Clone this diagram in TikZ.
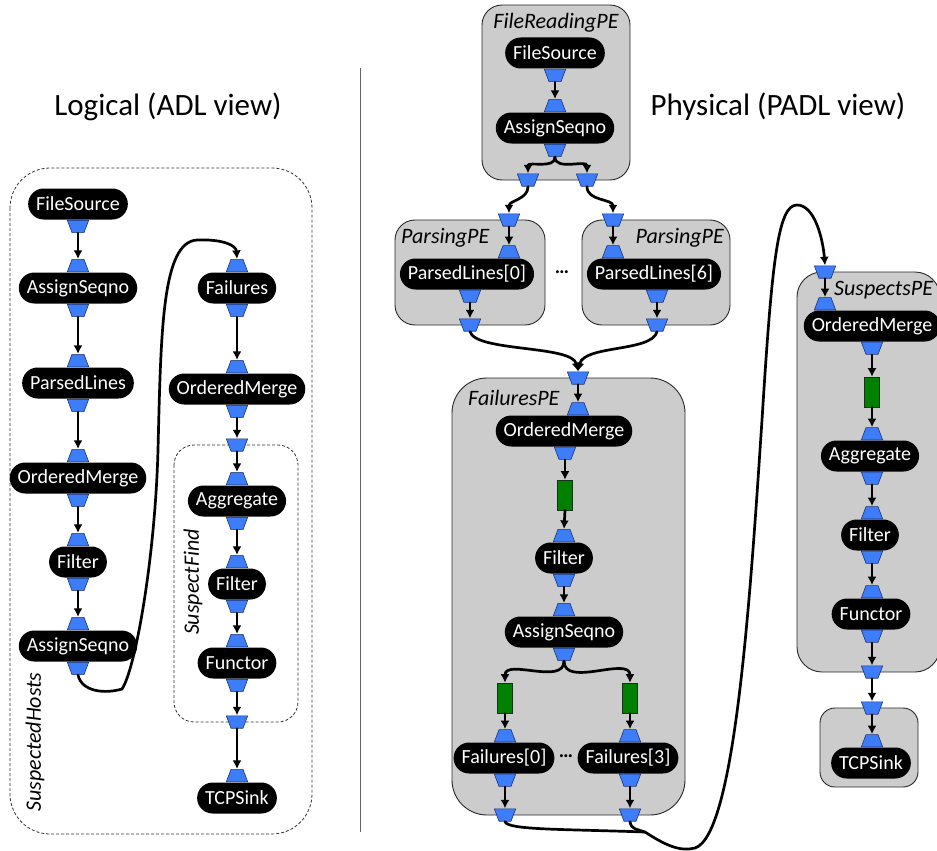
\documentclass[tikz,border=0pt]{standalone}
\usepackage{fontspec}
\setmainfont{Carlito}
\usetikzlibrary{arrows.meta}
\definecolor{portblue}{RGB}{61,125,250}
\definecolor{portedge}{RGB}{30,50,110}
\definecolor{bufgreen}{RGB}{0,128,0}
\definecolor{bufedge}{RGB}{20,50,20}
\definecolor{pegray}{RGB}{204,204,204}
\definecolor{peedge}{RGB}{40,40,40}
\begin{document}
\begin{tikzpicture}[x=1pt,y=-1pt,
  op/.style={fill=black, text=white, rounded corners=15.5pt, minimum height=31pt, inner xsep=8pt, inner ysep=0pt, font=\fontsize{20}{22}\selectfont},
  portbase/.style={rectangle, minimum width=22pt, minimum height=13pt, inner sep=0pt},
  inport/.style={portbase, path picture={\filldraw[fill=portblue, draw=portedge, line width=0.6pt]
      ([xshift=5pt,yshift=-0.3pt]path picture bounding box.north west) --
      ([xshift=-5pt,yshift=-0.3pt]path picture bounding box.north east) --
      ([xshift=-0.3pt,yshift=0.3pt]path picture bounding box.south east) --
      ([xshift=0.3pt,yshift=0.3pt]path picture bounding box.south west) -- cycle;}},
  outport/.style={portbase, path picture={\filldraw[fill=portblue, draw=portedge, line width=0.6pt]
      ([xshift=0.3pt,yshift=-0.3pt]path picture bounding box.north west) --
      ([xshift=-0.3pt,yshift=-0.3pt]path picture bounding box.north east) --
      ([xshift=-5pt,yshift=0.3pt]path picture bounding box.south east) --
      ([xshift=5pt,yshift=0.3pt]path picture bounding box.south west) -- cycle;}},
  buf/.style={fill=bufgreen, draw=bufedge, line width=0.6pt, minimum width=15pt, minimum height=30pt, inner sep=0pt},
  pebox/.style={fill=pegray, draw=peedge, line width=0.9pt},
  grpbox/.style={draw=black!80, line width=0.8pt, dash pattern=on 3pt off 2pt},
  lbl/.style={font=\fontsize{22}{24}\selectfont\itshape, inner sep=0pt},
  ttl/.style={font=\fontsize{31}{35}\selectfont},
  flow/.style={line width=2.7pt, line cap=round, -{Latex[length=8.5pt,width=9pt]}},
  flowline/.style={line width=2.7pt, line cap=round},
  dots/.style={font=\fontsize{20}{22}\selectfont\bfseries}
]
\useasboundingbox (0,0) rectangle (937,851);

% titles and separator
\node[ttl] (tL) at (168,107) {Logical (ADL view)};
\node[ttl] (tR) at (778,107) {Physical (PADL view)};
\draw[black!60, line width=0.8pt] (360,68) -- (360,832);

% ================= LEFT: logical view =================
\draw[grpbox] (10,168) [rounded corners=40pt] rectangle (312,834);
\draw[grpbox] (174,445) [rounded corners=20pt] rectangle (298,722);
\node[lbl, rotate=90] (shLbl) at (35,742) {SuspectedHosts};
\node[lbl, rotate=90] (sfLbl) at (193,582) {SuspectFind};

\node[op] (lFS) at (78,204) {FileSource};
\node[outport, anchor=north] (lFSo) at (lFS.south) {};

\node[op] (lAS) at (78,288) {AssignSeqno};
\node[inport, anchor=south] (lASi) at (lAS.north) {};
\node[outport, anchor=north] (lASo) at (lAS.south) {};

\node[op] (lPL) at (78,383) {ParsedLines};
\node[inport, anchor=south] (lPLi) at (lPL.north) {};
\node[outport, anchor=north] (lPLo) at (lPL.south) {};

\node[op] (lOM) at (78,478) {OrderedMerge};
\node[inport, anchor=south] (lOMi) at (lOM.north) {};
\node[outport, anchor=north] (lOMo) at (lOM.south) {};

\node[op] (lFi) at (78,562) {Filter};
\node[inport, anchor=south] (lFii) at (lFi.north) {};
\node[outport, anchor=north] (lFio) at (lFi.south) {};

\node[op] (lAS2) at (78,646) {AssignSeqno};
\node[inport, anchor=south] (lAS2i) at (lAS2.north) {};
\node[outport, anchor=north] (lAS2o) at (lAS2.south) {};

\node[op] (lFa) at (237,288) {Failures};
\node[inport, anchor=south] (lFai) at (lFa.north) {};
\node[outport, anchor=north] (lFao) at (lFa.south) {};

\node[op] (lOM2) at (237,389) {OrderedMerge};
\node[inport, anchor=south] (lOM2i) at (lOM2.north) {};
\node[outport, anchor=north] (lOM2o) at (lOM2.south) {};

\node[outport] (sfi) at (237,445) {};

\node[op] (lAg) at (237,501) {Aggregate};
\node[inport, anchor=south] (lAgi) at (lAg.north) {};
\node[outport, anchor=north] (lAgo) at (lAg.south) {};

\node[op] (lFi2) at (237,584) {Filter};
\node[inport, anchor=south] (lFi2i) at (lFi2.north) {};
\node[outport, anchor=north] (lFi2o) at (lFi2.south) {};

\node[op] (lFu) at (237,663) {Functor};
\node[inport, anchor=south] (lFui) at (lFu.north) {};
\node[outport, anchor=north] (lFuo) at (lFu.south) {};

\node[outport] (sfo) at (237,722) {};

\node[op] (lTS) at (237,798) {TCPSink};
\node[inport, anchor=south] (lTSi) at (lTS.north) {};

\draw[flow] (lFSo.south) -- (lASi.north);
\draw[flow] (lASo.south) -- (lPLi.north);
\draw[flow] (lPLo.south) -- (lOMi.north);
\draw[flow] (lOMo.south) -- (lFii.north);
\draw[flow] (lFio.south) -- (lAS2i.north);
\draw[flow] (lAS2o.south) .. controls (82,692) and (105,694) .. (122,689)
  .. controls (135,670) and (155,560) .. (158,450)
  .. controls (161,330) and (162,242) .. (197,240)
  .. controls (222,239) and (236,245) .. (lFai.north);
\draw[flow] (lFao.south) -- (lOM2i.north);
\draw[flow] (lOM2o.south) -- (sfi.north);
\draw[flow] (sfi.south) -- (lAgi.north);
\draw[flow] (lAgo.south) -- (lFi2i.north);
\draw[flow] (lFi2o.south) -- (lFui.north);
\draw[flow] (lFuo.south) -- (sfo.north);
\draw[flow] (sfo.south) -- (lTSi.north);

% ================= RIGHT: physical view =================
% FileReadingPE
\draw[pebox] (482,5) [rounded corners=20pt] rectangle (630,180);
\node[lbl] (frLbl) at (556,23) {FileReadingPE};
\node[op] (rFS) at (555,53) {FileSource};
\node[outport, anchor=north] (rFSo) at (rFS.south) {};
\node[op] (rAS1) at (555,128) {AssignSeqno};
\node[inport, anchor=south] (rAS1i) at (rAS1.north) {};
\node[outport, anchor=north] (rAS1o) at (rAS1.south) {};
\node[outport] (frL) at (528,180) {};
\node[outport] (frR) at (587,180) {};

% ParsingPE left
\draw[pebox] (395,220) [rounded corners=20pt] rectangle (545,325);
\node[lbl, anchor=west] (pLlbl) at (401,238) {ParsingPE};
\node[op] (rPL0) at (467,274) {ParsedLines[0]};
\node[outport] (pLt) at (509,220) {};
\node[inport, anchor=south] (rPL0i) at (509,258.5) {};
\node[outport, anchor=north] (rPL0o) at (470,289.5) {};
\node[outport] (pLb) at (470,325) {};

% ParsingPE right
\draw[pebox] (582,220) [rounded corners=20pt] rectangle (730,325);
\node[lbl, anchor=east] (pRlbl) at (724,238) {ParsingPE};
\node[op] (rPL6) at (654,274) {ParsedLines[6]};
\node[outport] (pRt) at (613,220) {};
\node[inport, anchor=south] (rPL6i) at (613,258.5) {};
\node[outport, anchor=north] (rPL6o) at (657,289.5) {};
\node[outport] (pRb) at (657,325) {};
\node[dots] (pdots) at (562,272) {…};

% FailuresPE
\draw[pebox] (452,378) [rounded corners=35pt] rectangle (685,815);
\node[lbl, anchor=west] (fLbl) at (468,398) {FailuresPE};
\node[outport] (fTop) at (578,378) {};
\node[op] (rOM) at (564,431) {OrderedMerge};
\node[inport, anchor=south] (rOMi) at (578,415.5) {};
\node[outport, anchor=north] (rOMo) at (565,446.5) {};
\node[buf] (g1) at (565,495) {};
\node[op] (rFi) at (564,558) {Filter};
\node[inport, anchor=south] (rFii) at (rFi.north) {};
\node[outport, anchor=north] (rFio) at (rFi.south) {};
\node[op] (rAS2) at (564,632) {AssignSeqno};
\node[inport, anchor=south] (rAS2i) at (rAS2.north) {};
\node[outport, anchor=north] (rAS2o) at (rAS2.south) {};
\node[buf] (gL) at (505,698) {};
\node[buf] (gR) at (630,698) {};
\node[op] (rF0) at (504,758) {Failures[0]};
\node[inport, anchor=south] (rF0i) at (505,742.5) {};
\node[outport, anchor=north] (rF0o) at (505,773.5) {};
\node[op] (rF3) at (628,758) {Failures[3]};
\node[inport, anchor=south] (rF3i) at (630,742.5) {};
\node[outport, anchor=north] (rF3o) at (630,773.5) {};
\node[dots] (fdots) at (566,756) {…};
\node[outport] (fbL) at (505,815) {};
\node[outport] (fbR) at (630,815) {};

% SuspectsPE
\draw[pebox] (797,272) [rounded corners=25pt] rectangle (940,672);
\node[lbl, anchor=west] (sLbl) at (834,290) {SuspectsPE};
\node[outport] (sTop) at (825,272) {};
\node[op] (rOM3) at (872,326) {OrderedMerge};
\node[inport, anchor=south] (rOM3i) at (825,310.5) {};
\node[outport, anchor=north] (rOM3o) at (872,341.5) {};
\node[buf] (g2) at (872,392) {};
\node[op] (rAg) at (870,456) {Aggregate};
\node[inport, anchor=south] (rAgi) at (872,440.5) {};
\node[outport, anchor=north] (rAgo) at (872,471.5) {};
\node[op] (rFi3) at (870,535) {Filter};
\node[inport, anchor=south] (rFi3i) at (872,519.5) {};
\node[outport, anchor=north] (rFi3o) at (872,550.5) {};
\node[op] (rFu) at (871,614) {Functor};
\node[inport, anchor=south] (rFui) at (872,598.5) {};
\node[outport, anchor=north] (rFuo) at (872,629.5) {};
\node[outport] (sBot) at (872,672) {};

% TCPSink PE
\draw[pebox] (820,708) [rounded corners=15pt] rectangle (918,787);
\node[outport] (tTop) at (872,708) {};
\node[op] (rTS) at (871,763) {TCPSink};
\node[inport, anchor=south] (rTSi) at (872,747.5) {};

% connectors, physical view
\draw[flow] (rFSo.south) -- (rAS1i.north);
\draw[flow] (rAS1o.south) to[out=-90,in=90] (frL.north);
\draw[flow] (rAS1o.south) to[out=-90,in=90] (frR.north);
\draw[flow] (frL.south) to[out=-90,in=90] (pLt.north);
\draw[flow] (frR.south) to[out=-90,in=90] (pRt.north);
\draw[flow] (pLt.south) -- (rPL0i.north);
\draw[flow] (pRt.south) -- (rPL6i.north);
\draw[flow] (rPL0o.south) -- (pLb.north);
\draw[flow] (rPL6o.south) -- (pRb.north);
\draw[flow] (pLb.south) .. controls (476,352) and (572,345) .. (fTop.north);
\draw[flow] (pRb.south) .. controls (652,352) and (584,345) .. (fTop.north);
\draw[flow] (fTop.south) -- (rOMi.north);
\draw[flow] (rOMo.south) -- (g1.north);
\draw[flow] (g1.south) -- (rFii.north);
\draw[flow] (rFio.south) -- (rAS2i.north);
\draw[flow] (rAS2o.south) to[out=-90,in=90] (gL.north);
\draw[flow] (rAS2o.south) to[out=-90,in=90] (gR.north);
\draw[flow] (gL.south) -- (rF0i.north);
\draw[flow] (gR.south) -- (rF3i.north);
\draw[flow] (rF0o.south) -- (fbL.north);
\draw[flow] (rF3o.south) -- (fbR.north);
\coordinate (jn) at (645,832);
\draw[flowline] (fbL.south) .. controls (508,830) and (560,829) .. (jn);
\draw[flowline] (fbR.south) .. controls (631,829) and (636,829) .. (jn);
\draw[flow] (jn) .. controls (665,845) and (680,852) .. (695,848)
  .. controls (735,835) and (750,600) .. (762,420)
  .. controls (772,260) and (778,205) .. (797,205)
  .. controls (815,205) and (823,240) .. (sTop.north);
\draw[flow] (sTop.south) -- (rOM3i.north);
\draw[flow] (rOM3o.south) -- (g2.north);
\draw[flow] (g2.south) -- (rAgi.north);
\draw[flow] (rAgo.south) -- (rFi3i.north);
\draw[flow] (rFi3o.south) -- (rFui.north);
\draw[flow] (rFuo.south) -- (sBot.north);
\draw[flow] (sBot.south) -- (tTop.north);
\draw[flow] (tTop.south) -- (rTSi.north);
\end{tikzpicture}
\end{document}
